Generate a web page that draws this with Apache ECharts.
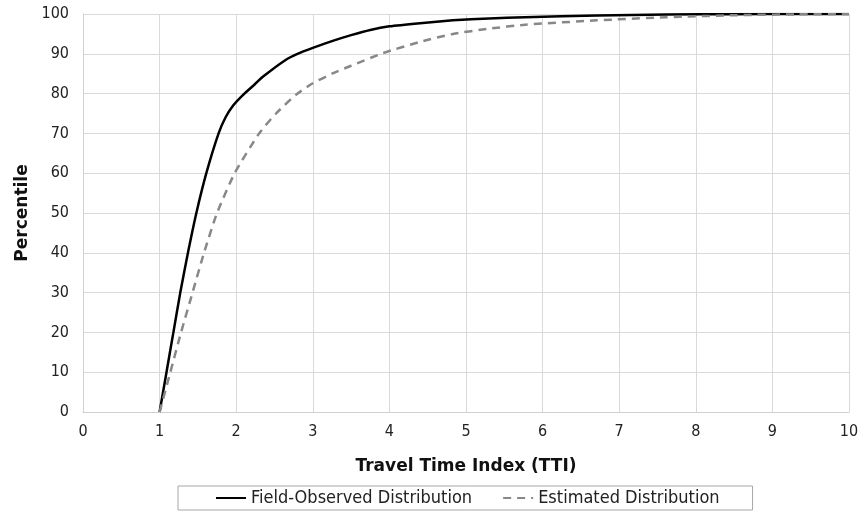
<!DOCTYPE html>
<html>
<head>
<meta charset="utf-8">
<script src="https://cdn.jsdelivr.net/npm/echarts@6/dist/echarts.min.js"></script>
<style>
  html, body { margin: 0; padding: 0; background: #fff; }
  #chart { width: 865px; height: 514px; }
</style>
</head>
<body>
<div id="chart"></div>
<script>
// Cumulative distribution of Travel Time Index
const observedTTI = [1.0, 1.09, 1.18, 1.27, 1.37, 1.48, 1.61, 1.77, 1.86, 1.96, 2.08, 2.2, 2.36, 2.64, 2.8, 3.0, 3.25, 3.5, 3.75, 4.0, 4.4, 4.83, 5.3, 5.77, 6.71, 7.62, 8.5, 9.3, 10];
const observedPct = [0, 10, 20, 30, 40, 50, 60, 70, 74, 77, 79.5, 81.6, 84.4, 88.4, 90, 91.5, 93.2, 94.7, 96.0, 96.9, 97.7, 98.4, 98.9, 99.2, 99.6, 99.85, 99.95, 100, 100];

const estimatedTTI = [1.0, 1.14, 1.28, 1.43, 1.58, 1.75, 1.98, 2.3, 2.52, 2.78, 3.0, 3.25, 3.5, 3.92, 4.4, 4.83, 5.3, 5.77, 6.71, 7.62, 8.53, 9.3, 10];
const estimatedPct = [0, 10, 20, 30, 40, 50, 60, 70, 75, 79.7, 82.6, 85.0, 87.0, 90.2, 93.0, 95.0, 96.3, 97.3, 98.4, 99.2, 99.7, 99.9, 100];

const seriesNames = ['Field-Observed Distribution', 'Estimated Distribution'];
const xTitle = 'Travel Time Index (TTI)';
const yTitle = 'Percentile';

const FONT = '"DejaVu Sans Condensed", "DejaVu Sans", sans-serif';
const TITLE_FONT = '"DejaVu Sans", sans-serif';
const pairs = (xs, ys) => xs.map((x, i) => [x, ys[i]]);

const chart = echarts.init(document.getElementById('chart'));
chart.setOption({
  animation: false,
  textStyle: { fontFamily: FONT },
  grid: { left: 83, right: 16, top: 14, bottom: 102 },
  xAxis: {
    type: 'value', min: 0, max: 10, interval: 1,
    name: xTitle, nameLocation: 'middle', nameGap: 46,
    nameTextStyle: { fontFamily: TITLE_FONT, fontWeight: 'bold', fontSize: 17, color: '#111' },
    axisLine: { show: true, lineStyle: { color: '#d0d0d0', width: 1 } },
    axisTick: { show: false },
    axisLabel: { fontFamily: FONT, fontSize: 16, color: '#222', margin: 12 },
    splitLine: { show: true, lineStyle: { color: '#d9d9d9', width: 1 } }
  },
  yAxis: {
    type: 'value', min: 0, max: 100, interval: 10,
    name: yTitle, nameLocation: 'middle', nameGap: 52, nameRotate: 90,
    nameTextStyle: { fontFamily: TITLE_FONT, fontWeight: 'bold', fontSize: 17, color: '#111' },
    axisLine: { show: true, lineStyle: { color: '#d0d0d0', width: 1 } },
    axisTick: { show: false },
    axisLabel: { fontFamily: FONT, fontSize: 16, color: '#222', margin: 14 },
    splitLine: { show: true, lineStyle: { color: '#d9d9d9', width: 1 } }
  },
  legend: {
    left: 178, top: 486,
    data: seriesNames,
    itemWidth: 30, itemHeight: 14, itemGap: 30,
    padding: [3, 33, 3, 37],
    borderColor: '#a6a6a6', borderWidth: 1,
    itemStyle: { opacity: 0 },
    textStyle: { fontFamily: FONT, fontSize: 18, color: '#222' }
  },
  series: [
    {
      name: seriesNames[0], type: 'line', symbol: 'none', smooth: 0.2,
      data: pairs(observedTTI, observedPct),
      lineStyle: { color: '#000', width: 2.5 },
      itemStyle: { color: '#000' }
    },
    {
      name: seriesNames[1], type: 'line', symbol: 'none', smooth: 0.2,
      data: pairs(estimatedTTI, estimatedPct),
      lineStyle: { color: '#888', width: 2.5, type: [8, 6] },
      itemStyle: { color: '#888' }
    }
  ]
});
</script>
</body>
</html>
